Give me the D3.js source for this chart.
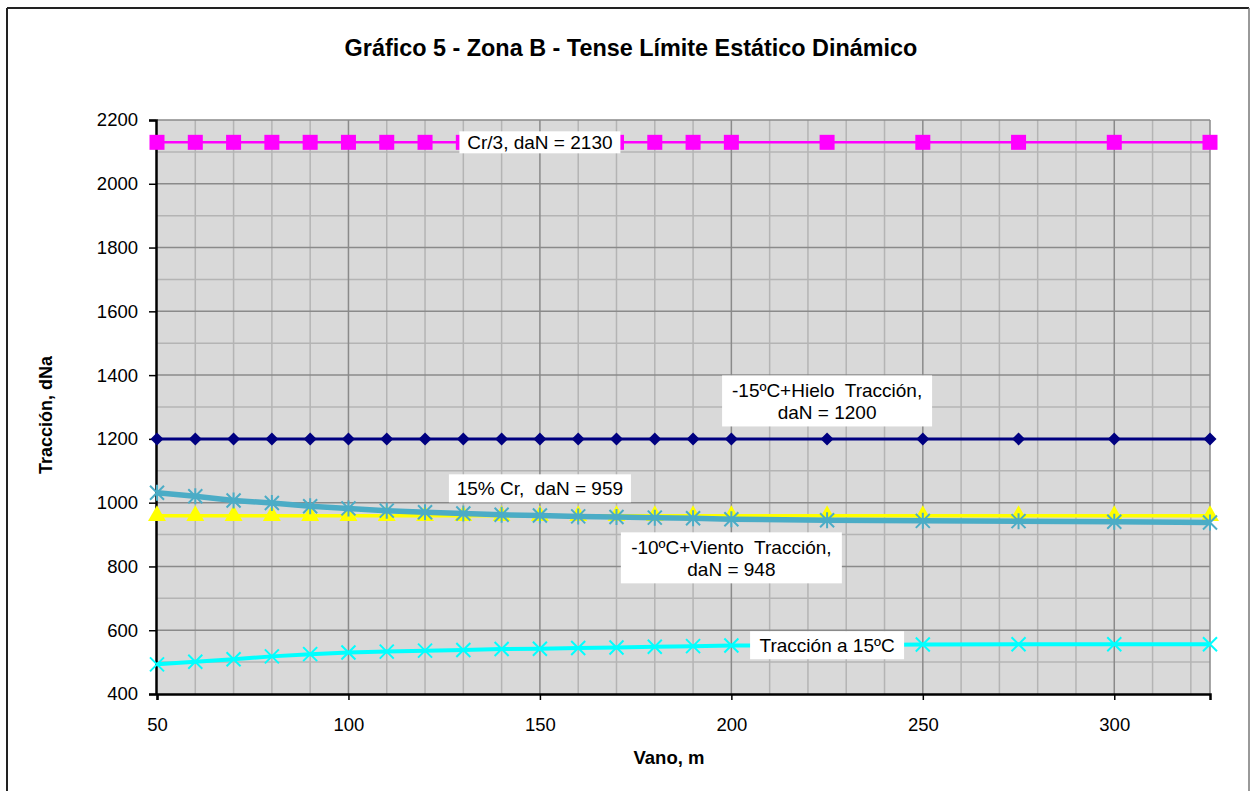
<!DOCTYPE html>
<html>
<head>
<meta charset="utf-8">
<script src="https://cdn.jsdelivr.net/npm/d3@7"></script>
<style>
  html, body { margin: 0; padding: 0; background: #fff; }
  svg { display: block; font-family: "Liberation Sans", Arial, sans-serif; }
</style>
</head>
<body>
<svg id="chart" width="1250" height="791"></svg>
<script>
// Span lengths (m)
const vanos = [50, 60, 70, 80, 90, 100, 110, 120, 130, 140, 150, 160, 170, 180, 190, 200, 225, 250, 275, 300, 325];

// Tension values (daN) per span
const cr3 =        [2130, 2130, 2130, 2130, 2130, 2130, 2130, 2130, 2130, 2130, 2130, 2130, 2130, 2130, 2130, 2130, 2130, 2130, 2130, 2130, 2130];
const hielo =      [1200, 1200, 1200, 1200, 1200, 1200, 1200, 1200, 1200, 1200, 1200, 1200, 1200, 1200, 1200, 1200, 1200, 1200, 1200, 1200, 1200];
const cr15 =       [959, 959, 959, 959, 959, 959, 959, 959, 959, 959, 959, 959, 959, 959, 959, 959, 959, 959, 959, 959, 959];
const viento =     [1031, 1020, 1007, 999, 989, 982, 975, 970, 966, 962, 960, 957, 955, 953, 951, 948, 945, 943, 942, 940, 938];
const traccion15 = [493, 501, 509, 518, 525, 530, 533, 536, 538, 541, 542, 544, 546, 548, 550, 552, 553, 555, 556, 556, 556];

const xTicks = [50, 100, 150, 200, 250, 300];
const yTicks = [400, 600, 800, 1000, 1200, 1400, 1600, 1800, 2000, 2200];

const svg = d3.select("#chart");
const plot = { left: 157, right: 1210, top: 120, bottom: 694 };

const x = d3.scaleLinear().domain([50, 325]).range([plot.left, plot.right]);
const y = d3.scaleLinear().domain([400, 2200]).range([plot.bottom, plot.top]);

// Outer frame
svg.append("line").attr("x1", 7).attr("x2", 1249).attr("y1", 8).attr("y2", 8).attr("stroke", "#222").attr("stroke-width", 2);
svg.append("line").attr("x1", 7).attr("x2", 7).attr("y1", 8).attr("y2", 791).attr("stroke", "#222").attr("stroke-width", 2);
svg.append("line").attr("x1", 1249).attr("x2", 1249).attr("y1", 8).attr("y2", 791).attr("stroke", "#777").attr("stroke-width", 1.5);

// Title
svg.append("text").attr("x", 631).attr("y", 56).attr("text-anchor", "middle")
  .attr("font-size", 23.4).attr("font-weight", "bold").attr("fill", "#000")
  .text("Gráfico 5 - Zona B - Tense Límite Estático Dinámico");

// Plot area background
svg.append("rect").attr("x", plot.left).attr("y", plot.top)
  .attr("width", plot.right - plot.left).attr("height", plot.bottom - plot.top)
  .attr("fill", "#d9d9d9");

// Grid: minor then major
const grid = svg.append("g");
const minorX = d3.range(60, 326, 10).filter(v => v % 50 !== 0);
const minorY = d3.range(500, 2200, 200);
grid.selectAll(".mx").data(minorX).join("line")
  .attr("x1", d => x(d)).attr("x2", d => x(d)).attr("y1", plot.top).attr("y2", plot.bottom)
  .attr("stroke", "#b4b4b4").attr("stroke-width", 1.5);
grid.selectAll(".my").data(minorY).join("line")
  .attr("x1", plot.left).attr("x2", plot.right).attr("y1", d => y(d)).attr("y2", d => y(d))
  .attr("stroke", "#b4b4b4").attr("stroke-width", 1.5);
grid.selectAll(".MX").data(xTicks.slice(1)).join("line")
  .attr("x1", d => x(d)).attr("x2", d => x(d)).attr("y1", plot.top).attr("y2", plot.bottom)
  .attr("stroke", "#8a8a8a").attr("stroke-width", 1.5);
grid.selectAll(".MY").data(yTicks.slice(1)).join("line")
  .attr("x1", plot.left).attr("x2", plot.right).attr("y1", d => y(d)).attr("y2", d => y(d))
  .attr("stroke", "#8a8a8a").attr("stroke-width", 1.5);
grid.append("line").attr("x1", plot.right).attr("x2", plot.right).attr("y1", plot.top).attr("y2", plot.bottom)
  .attr("stroke", "#8a8a8a").attr("stroke-width", 1.5);

// Axes
const xAxis = d3.axisBottom(x).tickValues(xTicks).tickSize(6).tickPadding(18).tickFormat(d3.format("d"));
const yAxis = d3.axisLeft(y).tickValues(yTicks).tickSize(7).tickPadding(11).tickFormat(d3.format("d"));

const gx = svg.append("g").attr("transform", `translate(0,${plot.bottom})`).call(xAxis);
const gy = svg.append("g").attr("transform", `translate(${plot.left - 1},0)`).call(yAxis);
[gx, gy].forEach(g => {
  g.select(".domain").attr("stroke", "#000").attr("stroke-width", 2.5);
  g.selectAll(".tick line").attr("stroke", "#000").attr("stroke-width", 1.5);
  g.selectAll(".tick text").attr("font-size", 18.5).attr("fill", "#000")
    .attr("font-family", "'Liberation Sans', Arial, sans-serif");
});

// Axis titles
svg.append("text").attr("x", 669).attr("y", 764).attr("text-anchor", "middle")
  .attr("font-size", 18.5).attr("font-weight", "bold").text("Vano, m");
svg.append("text").attr("transform", `translate(52,${(plot.top + plot.bottom) / 2 + 8}) rotate(-90)`)
  .attr("text-anchor", "middle").attr("font-size", 18).attr("font-weight", "bold").text("Tracción, dNa");

// Series drawing
const pts = vals => vanos.map((v, i) => [v, vals[i]]);
const lineGen = d3.line().x(d => x(d[0])).y(d => y(d[1]));
const series = svg.append("g");

function drawLine(vals, color, width) {
  series.append("path").datum(pts(vals)).attr("d", lineGen)
    .attr("fill", "none").attr("stroke", color).attr("stroke-width", width).attr("stroke-linejoin", "round");
}

// Tracción a 15ºC (cyan, X markers)
drawLine(traccion15, "#00ffff", 4);
series.append("g").selectAll("path").data(pts(traccion15)).join("path")
  .attr("d", "M-7,-7L7,7M-7,7L7,-7")
  .attr("transform", d => `translate(${x(d[0])},${y(d[1])})`)
  .attr("stroke", "#00ffff").attr("stroke-width", 2).attr("fill", "none");

// 15% Cr (yellow, triangles)
drawLine(cr15, "#ffff00", 3.5);
series.append("g").selectAll("path").data(pts(cr15)).join("path")
  .attr("d", d3.symbol(d3.symbolTriangle, 140))
  .attr("transform", d => `translate(${x(d[0])},${y(d[1])})`)
  .attr("fill", "#ffff00");

// -10ºC+Viento (teal, asterisk markers)
drawLine(viento, "#4bacc6", 5.5);
series.append("g").selectAll("path").data(pts(viento)).join("path")
  .attr("d", "M-7,-7L7,7M-7,7L7,-7M0,-8L0,8")
  .attr("transform", d => `translate(${x(d[0])},${y(d[1])})`)
  .attr("stroke", "#4bacc6").attr("stroke-width", 2).attr("fill", "none");

// -15ºC+Hielo (navy, diamonds)
drawLine(hielo, "#000080", 3);
series.append("g").selectAll("path").data(pts(hielo)).join("path")
  .attr("d", "M0,-6.5L6.5,0L0,6.5L-6.5,0Z")
  .attr("transform", d => `translate(${x(d[0])},${y(d[1])})`)
  .attr("fill", "#000080");

// Cr/3 (magenta, squares)
drawLine(cr3, "#ff00ff", 2.5);
series.append("g").selectAll("rect").data(pts(cr3)).join("rect")
  .attr("x", d => x(d[0]) - 7.5).attr("y", d => y(d[1]) - 7.5)
  .attr("width", 15).attr("height", 15).attr("fill", "#ff00ff");

// Data labels (white boxes)
const labels = [
  { lines: ["Cr/3, daN = 2130"], cx: 150, cy: 2130, w: 161, h: 22 },
  { lines: ["-15ºC+Hielo  Tracción,", "daN = 1200"], cx: 225, cy: 1319, w: 210, h: 51 },
  { lines: ["15% Cr,  daN = 959"], cx: 150, cy: 1045, w: 182, h: 28 },
  { lines: ["-10ºC+Viento  Tracción,", "daN = 948"], cx: 200, cy: 827, w: 221, h: 51 },
  { lines: ["Tracción a 15ºC"], cx: 225, cy: 553, w: 154, h: 28 }
];
const lg = svg.append("g");
labels.forEach(l => {
  const px = x(l.cx), py = y(l.cy);
  lg.append("rect").attr("x", px - l.w / 2).attr("y", py - l.h / 2)
    .attr("width", l.w).attr("height", l.h).attr("fill", "#fff");
  const lh = 22;
  const y0 = py - (l.lines.length - 1) * lh / 2;
  l.lines.forEach((t, i) => {
    lg.append("text").attr("x", px).attr("y", y0 + i * lh).attr("dy", "0.36em")
      .attr("text-anchor", "middle").attr("font-size", 19).attr("fill", "#000")
      .attr("xml:space", "preserve").style("white-space", "pre").text(t);
  });
});
</script>
</body>
</html>
